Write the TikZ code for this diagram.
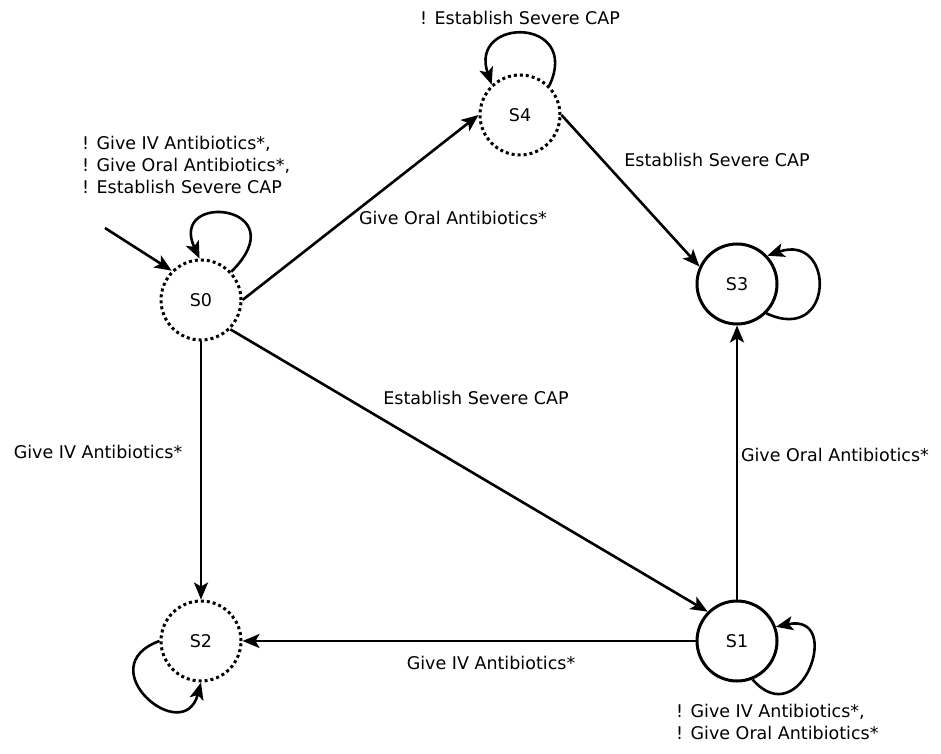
\documentclass[tikz,border=0pt]{standalone}
\usepackage{fontspec}
\setmainfont{DejaVu Sans}
\usetikzlibrary{arrows.meta}
\begin{document}
\begin{tikzpicture}[x=1pt,y=1pt,
  state/.style={circle, draw, line width=3pt, minimum size=80pt, inner sep=0pt,
    font=\fontsize{17.5}{22}\selectfont},
  hidden/.style={dash pattern=on 3pt off 3pt},
  trans/.style={line width=2.6pt, -{Stealth[length=17pt,width=14pt,inset=4pt]}},
  lbl/.style={font=\fontsize{17.5}{22}\selectfont, inner sep=0pt},
  loopl/.style={lbl, align=left, anchor=west}]
\useasboundingbox (0,0) rectangle (941,753);

% states
\node[state,hidden] (S0) at (201,453) {S0};
\node[state,hidden] (S4) at (520,638) {S4};
\node[state]        (S3) at (737,469) {S3};
\node[state]        (S1) at (737,112) {S1};
\node[state,hidden] (S2) at (201,112) {S2};
\coordinate (init) at (105,525);

% transitions between states
\draw[trans] (init) -- (S0.135);
\draw[trans] (S0.east) -- (S4.west);
\draw[trans] (S0.-45) -- (S1.135);
\draw[trans] (S0.south) -- (S2.north);
\draw[trans] (S4.east) -- (S3.155);
\draw[trans] (S1.north) -- (S3.south);
\draw[trans] (S1.west) -- (S2.east);

% self loops
\draw[trans] (S0.43) .. controls +(45:95) and +(115:75) .. (S0.92);
\draw[trans] (S4.45) .. controls +(65:76) and +(109:72) .. (S4.133);
\draw[trans] (S3.-45) .. controls +(-25:76) and +(19:72) .. (S3.43);
\draw[trans] (S1.-68) .. controls +(-49:74) and +(12:70) .. (S1.20);
\draw[trans] (S2.180) .. controls +(200:76) and +(255:68) .. (S2.270);

% transition labels
\node[lbl] (l04) at (453,535) {Give Oral Antibiotics*};
\node[lbl] (l43) at (717,593) {Establish Severe CAP};
\node[lbl] (l01) at (476,355) {Establish Severe CAP};
\node[lbl] (l02) at (98,301) {Give IV Antibiotics*};
\node[lbl] (l13) at (835,298) {Give Oral Antibiotics*};
\node[lbl] (l12) at (491,90) {Give IV Antibiotics*};
\node[loopl] (l00) at (82,588) {! Give IV Antibiotics*,\\! Give Oral Antibiotics*,\\! Establish Severe CAP};
\node[loopl] (l11) at (676,31) {! Give IV Antibiotics*,\\! Give Oral Antibiotics*};
\node[lbl] (l44) at (520,735) {! Establish Severe CAP};
\end{tikzpicture}
\end{document}
